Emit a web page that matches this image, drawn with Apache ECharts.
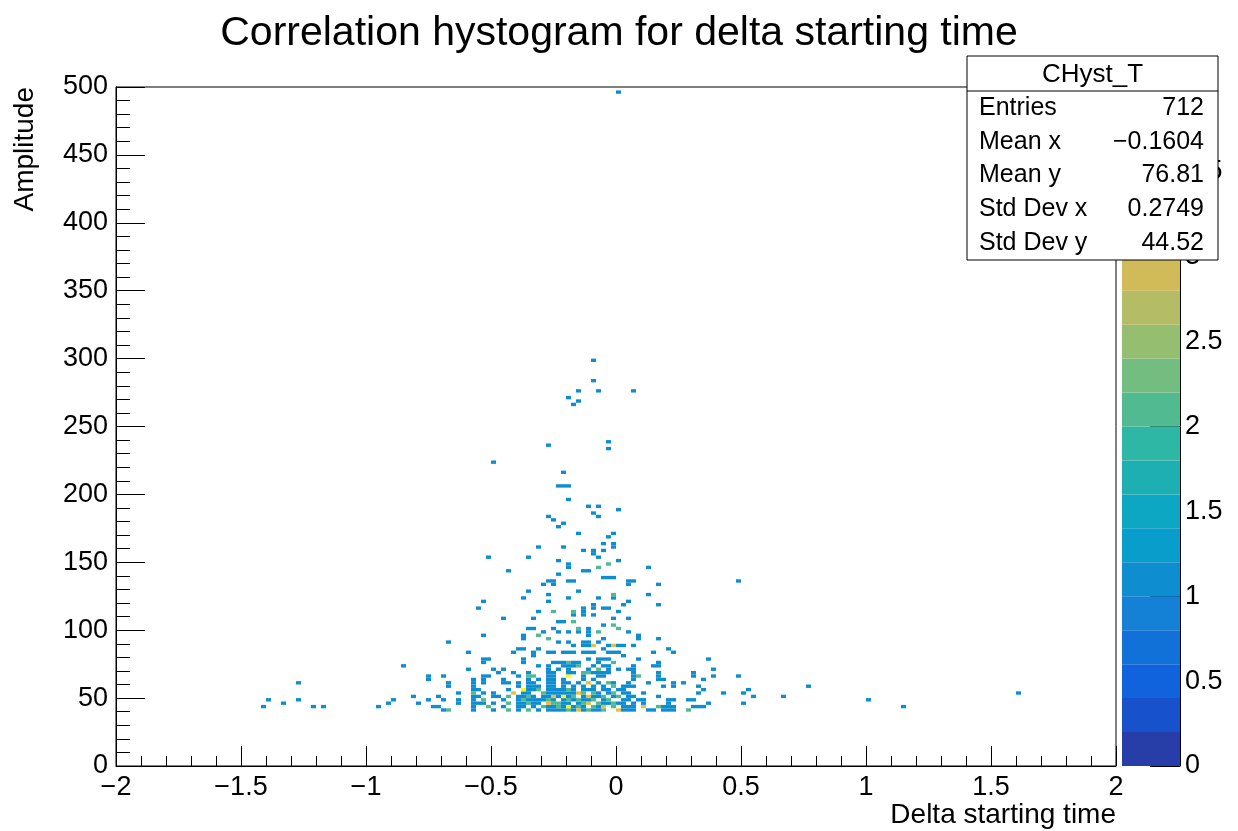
<!DOCTYPE html>
<html>
<head>
<meta charset="utf-8">
<script src="https://cdn.jsdelivr.net/npm/echarts@6/dist/echarts.min.js"></script>
<style>
  html, body { margin: 0; padding: 0; background: #ffffff; }
  #chart { width: 1238px; height: 831px; }
</style>
</head>
<body>
<div id="chart"></div>
<script>
// ---- texts ----
const titleText = 'Correlation hystogram for delta starting time';
const xTitle = 'Delta starting time';
const yTitle = 'Amplitude';
const statsName = 'CHyst_T';
const statsLabels = ['Entries', 'Mean x', 'Mean y', 'Std Dev x', 'Std Dev y'];
const statsValues = ['712', '\u22120.1604', '76.81', '0.2749', '44.52'];

// ---- axis ranges ----
const xRange = [-2, 2], xStep = 0.5;
const yRange = [0, 500], yStep = 50;
const zRange = [0, 4], zStep = 0.5;

// ---- histogram binning ----
const binW = 0.02;   // 200 bins over [-2, 2]
const binH = 2.5;    // 200 bins over [0, 500]

// colour contour levels (20 bands)
const contourLevels = [0, 0.2, 0.4, 0.6, 0.8, 1, 1.2, 1.4, 1.6, 1.8, 2,
                       2.2, 2.4, 2.6, 2.8, 3, 3.2, 3.4, 3.6, 3.8, 4];

// kBird palette stops
const birdStops = [0.0000, 0.1250, 0.2500, 0.3750, 0.5000, 0.6250, 0.7500, 0.8750, 1.0000];
const birdR = [0.2082, 0.0592, 0.0780, 0.0232, 0.1802, 0.5301, 0.8186, 0.9956, 0.9764];
const birdG = [0.1664, 0.3599, 0.5041, 0.6419, 0.7178, 0.7492, 0.7328, 0.7862, 0.9832];
const birdB = [0.5293, 0.8684, 0.8385, 0.7914, 0.6425, 0.4662, 0.3499, 0.1968, 0.0539];

// ---- bin contents: [amplitude bin centre, [[delta-time bin centre, entries], ...]] ----
const lowRows = [
  [41.25, [[-0.69,1],[-0.67,2],[-0.57,1],[-0.49,1],[-0.43,2],[-0.39,1],[-0.35,2],[-0.31,1],[-0.27,1],[-0.25,1],[-0.23,1],[-0.21,1],[-0.19,2],[-0.17,1],[-0.15,3],[-0.13,1],[-0.11,2],[-0.09,1],[-0.07,1],[-0.05,2],[0.01,3],[0.03,1],[0.05,1],[0.07,1],[0.13,1],[0.15,1],[0.19,1],[0.21,1],[0.23,1],[0.29,2]]],
  [43.75, [[-1.41,1],[-1.21,1],[-1.17,1],[-0.95,1],[-0.73,1],[-0.71,1],[-0.57,1],[-0.51,2],[-0.45,1],[-0.39,1],[-0.37,1],[-0.33,1],[-0.29,2],[-0.27,1],[-0.25,1],[-0.23,2],[-0.21,1],[-0.19,4],[-0.17,1],[-0.15,2],[-0.13,1],[-0.09,2],[-0.07,1],[-0.05,3],[-0.01,2],[0.03,1],[0.05,1],[0.07,1],[0.11,3],[0.17,2],[0.19,1],[0.21,1],[0.23,1],[0.31,1],[0.33,1],[0.35,1],[1.15,1]]],
  [46.25, [[-1.33,1],[-0.91,1],[-0.79,1],[-0.63,1],[-0.57,1],[-0.55,1],[-0.53,1],[-0.49,1],[-0.43,2],[-0.39,1],[-0.37,1],[-0.35,2],[-0.33,1],[-0.31,1],[-0.27,3],[-0.25,2],[-0.23,2],[-0.21,1],[-0.19,1],[-0.15,1],[-0.13,2],[-0.11,3],[-0.07,2],[-0.05,1],[-0.03,1],[-0.01,2],[0.01,1],[0.03,1],[0.07,1],[0.11,1],[0.21,1],[0.37,1],[0.51,1]]],
  [48.75, [[-1.39,1],[-1.27,1],[-0.89,1],[-0.75,1],[-0.69,1],[-0.63,1],[-0.57,1],[-0.53,2],[-0.45,1],[-0.39,1],[-0.37,2],[-0.35,1],[-0.33,1],[-0.31,1],[-0.29,1],[-0.27,2],[-0.25,1],[-0.21,1],[-0.19,2],[-0.17,1],[-0.15,2],[-0.13,1],[-0.11,1],[-0.09,2],[-0.05,1],[-0.03,2],[0.03,1],[0.05,1],[0.09,1],[0.11,1],[0.21,1],[0.23,1],[0.29,1],[0.31,1],[1.01,1]]],
  [51.25, [[-0.81,1],[-0.71,1],[-0.57,1],[-0.55,1],[-0.49,1],[-0.47,1],[-0.43,2],[-0.39,1],[-0.37,1],[-0.35,2],[-0.33,1],[-0.29,1],[-0.27,1],[-0.25,3],[-0.23,1],[-0.21,4],[-0.19,1],[-0.17,2],[-0.13,1],[-0.11,3],[-0.09,1],[-0.07,1],[-0.05,2],[-0.01,1],[0.01,2],[0.05,1],[0.07,1],[0.17,1],[0.55,1],[0.67,1]]],
  [53.75, [[-0.63,1],[-0.57,2],[-0.53,1],[-0.49,1],[-0.41,3],[-0.37,1],[-0.35,1],[-0.29,2],[-0.27,1],[-0.25,1],[-0.23,1],[-0.21,1],[-0.19,1],[-0.17,1],[-0.15,3],[-0.13,2],[-0.09,2],[-0.07,1],[-0.03,1],[-0.01,2],[0.03,1],[0.05,1],[0.11,1],[0.33,1],[0.43,1],[0.51,1],[1.61,1]]],
  [56.25, [[-0.57,1],[-0.55,1],[-0.43,1],[-0.37,4],[-0.35,1],[-0.33,1],[-0.31,2],[-0.27,1],[-0.25,1],[-0.23,1],[-0.21,1],[-0.19,2],[-0.17,1],[-0.13,1],[-0.11,1],[-0.09,1],[-0.05,1],[-0.03,1],[0.01,1],[0.03,1],[0.35,1],[0.53,1]]],
  [58.75, [[-0.67,1],[-0.57,1],[-0.39,1],[-0.35,1],[-0.33,1],[-0.31,1],[-0.27,1],[-0.25,1],[-0.21,1],[-0.17,1],[-0.13,1],[-0.09,1],[-0.05,1],[-0.01,2],[0.03,1],[0.05,1],[0.07,1],[0.19,1],[0.23,1],[0.33,1],[0.77,1]]],
  [61.25, [[-1.27,1],[-0.67,1],[-0.57,1],[-0.53,1],[-0.45,1],[-0.43,1],[-0.39,1],[-0.35,1],[-0.33,1],[-0.27,1],[-0.25,1],[-0.21,1],[-0.19,1],[-0.15,1],[-0.11,3],[-0.07,1],[-0.03,2],[-0.01,1],[0.05,1],[0.13,1],[0.23,1],[0.27,1]]],
  [63.75, [[-0.75,1],[-0.57,1],[-0.53,1],[-0.45,1],[-0.35,1],[-0.31,1],[-0.27,1],[-0.25,1],[-0.21,1],[-0.13,1],[-0.09,1],[0.07,1],[0.17,1],[0.19,1],[0.35,1]]],
  [66.25, [[-0.75,1],[-0.69,1],[-0.53,1],[-0.51,1],[-0.39,1],[-0.35,2],[-0.33,2],[-0.27,1],[-0.25,1],[-0.19,4],[-0.13,1],[-0.07,1],[-0.05,1],[0.07,1],[0.09,2],[0.17,1],[0.31,1],[0.39,1],[0.49,1]]],
  [68.75, [[-0.47,1],[-0.41,1],[-0.35,1],[-0.27,1],[-0.25,1],[-0.19,1],[-0.17,1],[-0.13,2],[-0.11,2],[-0.09,1],[-0.07,1],[-0.05,1],[-0.03,1],[0.07,1],[0.17,1],[0.31,1]]]
];

const midRows = [
  [71.25, [[-0.59,1],[-0.49,1],[-0.45,1],[-0.27,1],[-0.23,1],[-0.19,1],[-0.11,1],[-0.07,2],[-0.03,1],[0.01,1],[0.05,1],[0.07,1],[0.39,1]]],
  [73.75, [[-0.85,1],[-0.31,1],[-0.27,1],[-0.21,1],[-0.19,1],[-0.17,1],[-0.15,2],[-0.09,1],[-0.05,1],[-0.03,1],[0.07,1],[0.15,1],[0.17,1]]],
  [76.25, [[-0.53,1],[-0.37,1],[-0.25,1],[-0.23,1],[-0.21,1],[-0.19,2],[-0.17,1],[-0.15,1],[-0.07,1],[-0.01,2],[0.17,1]]],
  [78.75, [[-0.53,1],[-0.51,1],[-0.37,1],[-0.11,1],[-0.07,1],[-0.05,1],[-0.03,1],[0.09,1],[0.37,1]]],
  [81.25, [[-0.33,1],[0.03,1]]],
  [83.75, [[-0.59,1],[-0.41,1],[-0.33,1],[-0.27,1],[-0.25,1],[-0.21,1],[-0.19,1],[-0.17,1],[-0.13,1],[-0.11,1],[-0.09,1],[-0.03,1],[-0.01,1],[0.01,1],[0.15,1],[0.23,1]]],
  [86.25, [[-0.39,1],[-0.37,1],[-0.31,1],[-0.05,1],[0.21,1]]],
  [88.75, [[-0.17,1],[-0.13,1],[-0.11,1],[-0.09,3],[-0.03,1],[-0.01,3],[0.01,1],[0.03,1],[0.07,1]]],
  [91.25, [[-0.67,1],[-0.23,1],[-0.19,1],[-0.13,1],[-0.11,1],[-0.07,1]]],
  [93.75, [[-0.37,1],[-0.27,2],[-0.05,1],[0.09,1],[0.17,1]]],
  [96.25, [[-0.53,1],[-0.37,1],[-0.31,2],[-0.11,1],[0.09,1]]],
  [98.75, [[-0.29,1],[-0.23,1],[-0.19,1],[-0.15,1],[-0.11,1],[-0.07,2],[0.05,1]]],
  [101.25, [[-0.35,1],[-0.33,1],[-0.25,1],[-0.15,2],[-0.11,1],[0.01,2]]],
  [103.75, [[-0.05,1],[-0.01,2]]],
  [106.25, [[-0.23,1],[-0.21,1],[-0.17,2]]],
  [108.75, [[-0.45,1],[-0.33,1],[-0.01,1],[0.05,1]]],
  [111.25, [[-0.17,1],[-0.13,1],[-0.09,1]]],
  [113.75, [[-0.31,1],[-0.25,2],[-0.17,2],[-0.13,1],[0.01,1]]],
  [116.25, [[-0.55,1],[-0.13,1],[-0.09,1],[-0.05,1],[-0.03,1]]],
  [118.75, [[-0.09,1],[0.03,1],[0.17,1]]],
  [121.25, [[-0.53,1],[-0.27,1],[0.05,1]]],
  [123.75, [[-0.37,1],[-0.19,1],[-0.07,1],[-0.01,1]]],
  [126.25, [[-0.27,1],[-0.01,2],[0.13,1]]],
  [128.75, [[-0.35,1],[-0.15,1]]],
  [133.75, [[-0.29,1],[-0.25,1],[0.05,1],[0.17,1]]],
  [136.25, [[-0.27,1],[-0.25,1],[-0.19,1],[-0.17,1],[0.05,1],[0.07,1],[0.49,1]]],
  [138.75, [[-0.05,1],[-0.03,1],[-0.01,1]]],
  [141.25, [[-0.23,1]]],
  [143.75, [[-0.43,1],[-0.13,1],[-0.11,1]]],
  [146.25, [[-0.19,1],[-0.07,2],[0.13,1]]],
  [148.75, [[-0.19,1],[-0.03,2]]],
  [151.25, [[-0.23,1],[0.01,1]]],
  [153.75, [[-0.51,1],[-0.35,1],[-0.07,1]]],
  [156.25, [[-0.09,1]]],
  [158.75, [[-0.13,1],[-0.09,1],[-0.05,1]]],
  [161.25, [[-0.31,1],[-0.21,1],[-0.01,1]]],
  [163.75, [[-0.05,1],[-0.01,1]]]
];

const highRows = [
  [168.75, [[-0.03,1]]],
  [171.25, [[-0.15,1],[-0.01,1]]],
  [176.25, [[-0.23,1]]],
  [178.75, [[-0.21,1]]],
  [181.25, [[-0.25,1]]],
  [183.75, [[-0.27,1],[-0.07,1]]],
  [186.25, [[-0.09,1]]],
  [188.75, [[0.01,1]]],
  [191.25, [[-0.11,1],[-0.07,1]]],
  [196.25, [[-0.19,1]]],
  [206.25, [[-0.23,1],[-0.21,1],[-0.19,1]]],
  [216.25, [[-0.21,1]]],
  [223.75, [[-0.49,1]]],
  [233.75, [[-0.03,1]]],
  [236.25, [[-0.27,1]]],
  [238.75, [[-0.03,1]]],
  [266.25, [[-0.17,1]]],
  [268.75, [[-0.15,1]]],
  [271.25, [[-0.19,1]]],
  [276.25, [[-0.15,1],[-0.07,1],[0.07,1]]],
  [283.75, [[-0.09,1]]],
  [298.75, [[-0.09,1]]],
  [496.25, [[0.01,1]]]
];

// ---- colour helpers (ROOT-style contour colouring) ----
const nPaletteColors = 255;
function birdColor(f) {
  let i = 0;
  while (i < birdStops.length - 2 && f > birdStops[i + 1]) i++;
  const t = (f - birdStops[i]) / (birdStops[i + 1] - birdStops[i]);
  const ch = arr => Math.round(255 * (arr[i] + t * (arr[i + 1] - arr[i])));
  return 'rgb(' + ch(birdR) + ',' + ch(birdG) + ',' + ch(birdB) + ')';
}
function bandColor(k) {
  const nBands = contourLevels.length - 1;
  const idx = Math.min(nPaletteColors - 1, Math.floor((k + 0.99) * nPaletteColors / nBands));
  return birdColor(idx / (nPaletteColors - 1));
}
function levelOf(z) {
  const nBands = contourLevels.length - 1;
  let k = 0;
  while (k < nBands - 1 && z >= contourLevels[k + 1]) k++;
  return k;
}

// flatten rows into [x, y, entries]
const binData = [];
[lowRows, midRows, highRows].forEach(rows => {
  rows.forEach(([y, cols]) => cols.forEach(([x, n]) => binData.push([x, y, n])));
});

// palette bands: [zLow, zHigh, band index]
const bandData = [];
for (let k = 0; k < contourLevels.length - 1; k++) {
  bandData.push([contourLevels[k], contourLevels[k + 1], k]);
}

const FONT = '"Liberation Sans", Arial, Helvetica, sans-serif';
const minusFmt = v => String(v).replace('-', '\u2212');

const chart = echarts.init(document.getElementById('chart'), null, { renderer: 'canvas' });

const frame = { left: 116, top: 87, width: 1000, height: 679 };
const paletteBox = { left: 1122, top: 87, width: 58, height: 679 };
const stats = { x: 967, y: 56, w: 251, h: 204, head: 35, row: 33.8 };

// stats box drawn above everything else
const TOP_Z = 1000;
const statsChildren = [
  { type: 'rect', z: TOP_Z, shape: { x: stats.x, y: stats.y, width: stats.w, height: stats.h },
    style: { fill: '#ffffff', stroke: '#000000', lineWidth: 1 } },
  { type: 'line', z: TOP_Z + 1, shape: { x1: stats.x, y1: stats.y + stats.head, x2: stats.x + stats.w, y2: stats.y + stats.head },
    style: { stroke: '#000000', lineWidth: 1 } },
  { type: 'text', z: TOP_Z + 1, x: stats.x + stats.w / 2, y: stats.y + stats.head / 2 + 1,
    style: { text: statsName, font: '26px ' + FONT, fill: '#000', align: 'center', verticalAlign: 'middle' } }
];
statsLabels.forEach((lab, i) => {
  const cy = stats.y + stats.head + stats.row * (i + 0.5);
  statsChildren.push({ type: 'text', z: TOP_Z + 1, x: stats.x + 12, y: cy,
    style: { text: lab, font: '25px ' + FONT, fill: '#000', align: 'left', verticalAlign: 'middle' } });
  statsChildren.push({ type: 'text', z: TOP_Z + 1, x: stats.x + stats.w - 14, y: cy,
    style: { text: statsValues[i], font: '25px ' + FONT, fill: '#000', align: 'right', verticalAlign: 'middle' } });
});

const labelStyle = { color: '#000', fontFamily: FONT, fontSize: 27 };

chart.setOption({
  animation: false,
  backgroundColor: '#ffffff',
  title: {
    text: titleText, left: 'center', top: 8,
    textStyle: { fontFamily: FONT, fontSize: 41, fontWeight: 'normal', color: '#000' }
  },
  grid: [
    Object.assign({ show: true, borderColor: '#000', borderWidth: 1, backgroundColor: 'transparent' }, frame),
    Object.assign({ show: false }, paletteBox)
  ],
  xAxis: [
    {
      gridIndex: 0, type: 'value', min: xRange[0], max: xRange[1], interval: xStep,
      axisLine: { show: true, onZero: false, lineStyle: { color: '#000', width: 1 } },
      axisTick: { show: true, inside: true, length: 20, lineStyle: { color: '#000', width: 1 } },
      minorTick: { show: true, splitNumber: 5, length: 10, lineStyle: { color: '#000', width: 1 } },
      splitLine: { show: false },
      axisLabel: Object.assign({ margin: 8, formatter: minusFmt, showMinLabel: true, showMaxLabel: true }, labelStyle)
    },
    { gridIndex: 1, type: 'value', min: 0, max: 1, show: false }
  ],
  yAxis: [
    {
      gridIndex: 0, type: 'value', min: yRange[0], max: yRange[1], interval: yStep,
      axisLine: { show: true, onZero: false, lineStyle: { color: '#000', width: 1 } },
      axisTick: { show: true, inside: true, length: 29, lineStyle: { color: '#000', width: 1 } },
      minorTick: { show: true, splitNumber: 5, length: 14, lineStyle: { color: '#000', width: 1 } },
      splitLine: { show: false },
      axisLabel: Object.assign({ margin: 8, showMinLabel: true, showMaxLabel: true }, labelStyle)
    },
    {
      gridIndex: 1, type: 'value', position: 'right', min: zRange[0], max: zRange[1], interval: zStep,
      axisLine: { show: true, onZero: false, lineStyle: { color: '#000', width: 1 } },
      axisTick: { show: true, inside: true, length: 30, lineStyle: { color: '#000', width: 1 } },
      splitLine: { show: false },
      axisLabel: Object.assign({ margin: 5, showMinLabel: true, showMaxLabel: true }, labelStyle)
    }
  ],
  series: [
    {
      type: 'custom', xAxisIndex: 0, yAxisIndex: 0, data: binData,
      encode: { x: 0, y: 1 }, clip: true, z: 2,
      renderItem: (params, api) => {
        const x = api.value(0), y = api.value(1), n = api.value(2);
        const a = api.coord([x - binW / 2, y + binH / 2]);
        const b = api.coord([x + binW / 2, y - binH / 2]);
        return { type: 'rect', shape: { x: a[0], y: a[1], width: b[0] - a[0], height: b[1] - a[1] },
                 style: { fill: bandColor(levelOf(n)) } };
      }
    },
    {
      type: 'custom', xAxisIndex: 1, yAxisIndex: 1, data: bandData,
      encode: { y: [0, 1] }, z: 1,
      renderItem: (params, api) => {
        const lo = api.value(0), hi = api.value(1), k = api.value(2);
        const a = api.coord([0, hi]);
        const b = api.coord([1, lo]);
        return { type: 'rect', shape: { x: a[0], y: a[1], width: b[0] - a[0], height: b[1] - a[1] },
                 style: { fill: bandColor(k) } };
      }
    }
  ],
  graphic: [
    { type: 'text', x: 25, y: frame.top, rotation: Math.PI / 2, z: 50,
      style: { text: yTitle, font: '28px ' + FONT, fill: '#000', align: 'right', verticalAlign: 'middle' } },
    { type: 'text', x: frame.left + frame.width, y: 815, z: 50,
      style: { text: xTitle, font: '28px ' + FONT, fill: '#000', align: 'right', verticalAlign: 'middle' } },
    { type: 'group', z: TOP_Z, children: statsChildren }
  ]
});
</script>
</body>
</html>
